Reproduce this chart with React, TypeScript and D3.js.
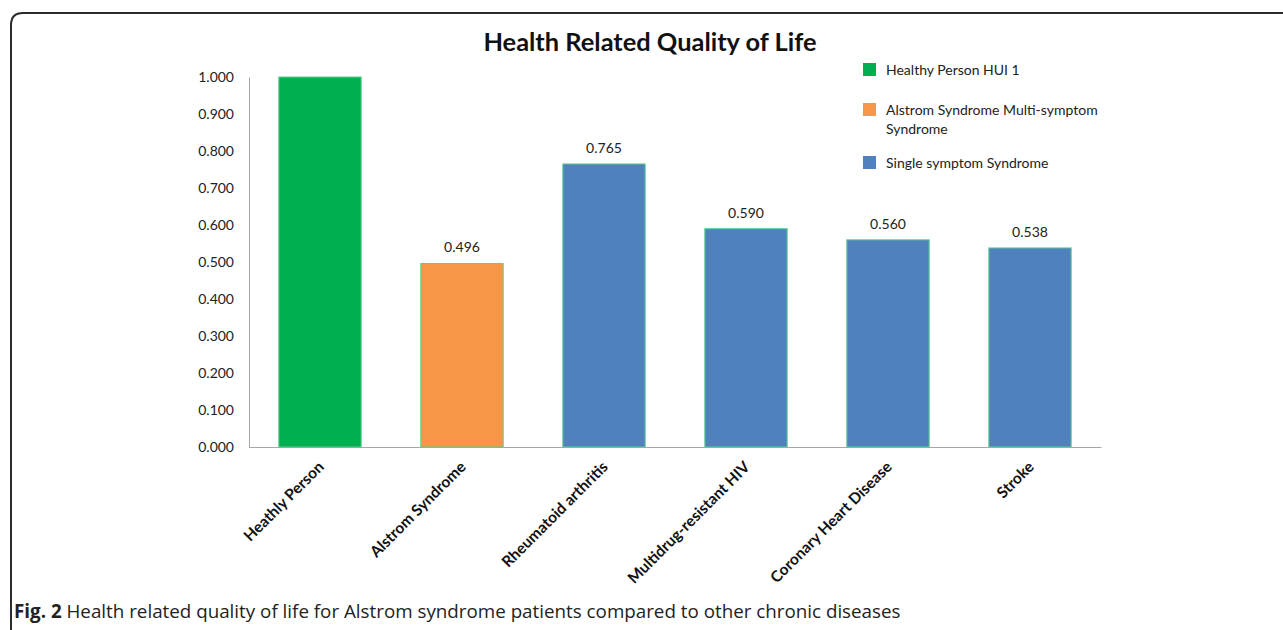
import { useEffect, useRef } from 'react'
import * as d3 from 'd3'

// * Chart data
const categories = ['Heathly Person', 'Alstrom Syndrome', 'Rheumatoid arthritis', 'Multidrug-resistant HIV', 'Coronary Heart Disease', 'Stroke']
const values = [1.0, 0.496, 0.765, 0.59, 0.56, 0.538]
const groups = [0, 1, 2, 2, 2, 2]
const showLabel = [false, true, true, true, true, true]
const legendLabels = [['Healthy Person HUI 1'], ['Alstrom Syndrome Multi-symptom', 'Syndrome'], ['Single symptom Syndrome']]
const yTicks = [0, 0.1, 0.2, 0.3, 0.4, 0.5, 0.6, 0.7, 0.8, 0.9, 1.0]

const colors = ['#00B050', '#F79646', '#4F81BD']
const FONT = 'Lato, "Open Sans", sans-serif'

export default function App() {
  const ref = useRef<SVGSVGElement | null>(null)

  useEffect(() => {
    const svg = d3.select(ref.current)
    svg.selectAll('*').remove()

    const W = 1283
    const H = 630
    svg.append('rect').attr('width', W).attr('height', H).attr('fill', '#fff')

    // * Frame (rounded top-left corner, open on the right)
    svg.append('path')
      .attr('d', `M11,${H} L11,25 Q11,13 23,13 L${W},13`)
      .attr('fill', 'none')
      .attr('stroke', '#2b2b2b')
      .attr('stroke-width', 2)

    // * Scales
    const x = d3.scaleBand<string>()
      .domain(categories)
      .range([249, 1101])
      .paddingInner(0.42)
      .paddingOuter(0.21)

    const y = d3.scaleLinear().domain([0, 1]).range([447, 77])

    // * Title
    svg.append('text')
      .attr('x', 650)
      .attr('y', 51)
      .attr('text-anchor', 'middle')
      .attr('font-family', FONT)
      .attr('font-weight', 'bold')
      .attr('font-size', 25.4)
      .attr('fill', '#111')
      .text('Health Related Quality of Life')

    // * Y axis
    const yAxis = svg.append('g')
      .attr('transform', 'translate(249,0)')
      .call(d3.axisLeft(y).tickValues(yTicks).tickFormat(d3.format('.3f')).tickSize(0).tickPadding(15))
    yAxis.select('.domain').attr('stroke', '#a6a6a6')
    yAxis.selectAll('text')
      .attr('font-family', FONT)
      .attr('font-size', 14)
      .attr('fill', '#222')

    // * Bars
    svg.append('g')
      .selectAll('rect')
      .data(categories)
      .join('rect')
      .attr('x', (d) => x(d)!)
      .attr('y', (d, i) => y(values[i]))
      .attr('width', x.bandwidth())
      .attr('height', (d, i) => y(0) - y(values[i]))
      .attr('fill', (d, i) => colors[groups[i]])
      .attr('stroke', '#5ccf8e')
      .attr('stroke-width', 1)

    // * X axis line + rotated labels
    const xAxis = svg.append('g')
      .attr('transform', `translate(0,${y(0)})`)
      .call(d3.axisBottom(x).tickSize(0).tickPadding(0))
    xAxis.select('.domain').attr('stroke', '#a6a6a6')
    xAxis.selectAll('text')
      .attr('font-family', FONT)
      .attr('font-weight', 'bold')
      .attr('font-size', 15.5)
      .attr('fill', '#111')
      .attr('text-anchor', 'end')
      .attr('dy', '0.35em')
      .attr('transform', 'translate(1,17) rotate(-45)')

    // * Value labels
    svg.append('g')
      .selectAll('text')
      .data(categories.filter((d, i) => showLabel[i]))
      .join('text')
      .attr('x', (d) => x(d)! + x.bandwidth() / 2)
      .attr('y', (d) => y(values[categories.indexOf(d)]) - 11)
      .attr('text-anchor', 'middle')
      .attr('font-family', FONT)
      .attr('font-size', 14)
      .attr('fill', '#222')
      .text((d) => d3.format('.3f')(values[categories.indexOf(d)]))

    // * Legend
    const legendY = [70, 110, 163]
    const legend = svg.append('g')
    legendLabels.forEach((lines, i) => {
      legend.append('rect')
        .attr('x', 863)
        .attr('y', legendY[i] - 7)
        .attr('width', 13)
        .attr('height', 13)
        .attr('fill', colors[i])
      const t = legend.append('text')
        .attr('font-family', FONT)
        .attr('font-size', 14)
        .attr('fill', '#222')
      lines.forEach((line, j) => {
        t.append('tspan')
          .attr('x', 886)
          .attr('y', legendY[i] + 5 + j * 19)
          .text(line)
      })
    })

    // * Caption
    const cap = svg.append('text')
      .attr('x', 14)
      .attr('y', 618)
      .attr('font-family', '"Open Sans", sans-serif')
      .attr('font-size', 18.8)
      .attr('fill', '#222')
    cap.append('tspan').attr('font-weight', 'bold').text('Fig. 2')
    cap.append('tspan').text(' Health related quality of life for Alstrom syndrome patients compared to other chronic diseases')
  }, [])

  return (
    <div style={{ position: 'absolute', left: 0, top: 0 }}>
      <svg width={1283} height={630} ref={ref} style={{ display: 'block' }} />
    </div>
  )
}
